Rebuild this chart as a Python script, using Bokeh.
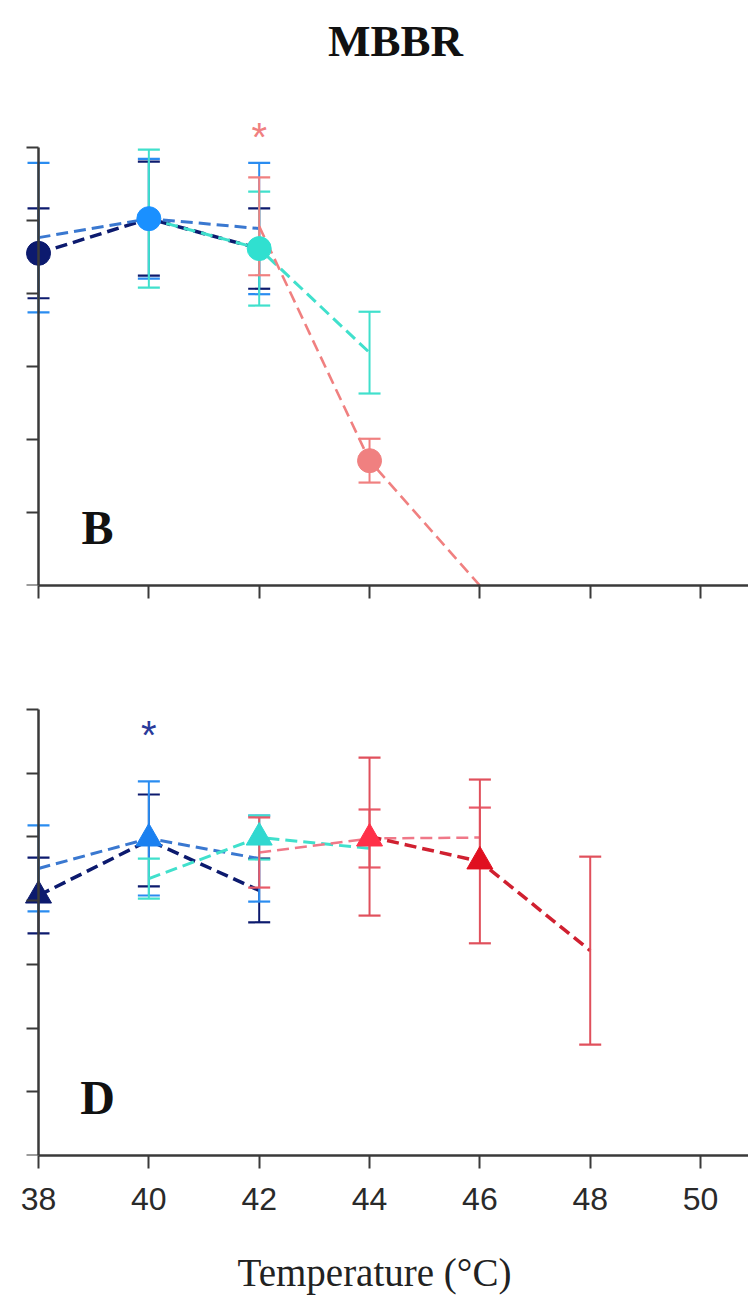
from bokeh.plotting import figure
from bokeh.layouts import column
from bokeh.models import Range1d, FixedTicker
from bokeh.core.properties import value
from bokeh.embed import file_html
from bokeh.resources import INLINE

# ---------------- data ----------------
x_ticks = [38, 40, 42, 44, 46, 48, 50]
b_y_ticks = [0, 20, 40, 60, 80, 100, 120]
d_y_ticks = [0, 20, 40, 60, 80, 100, 120, 140]

# Panel B (circles)
b_navy_x = [38, 40, 42]
b_navy_y = [91.0, 100.5, 92.3]
b_navy_e = [12.3, 15.6, 11.0]
b_blue_x = [38, 40, 42]
b_blue_y = [95.3, 100.5, 97.8]
b_blue_e = [20.5, 16.4, 18.0]
b_cyan_x = [40, 42, 44]
b_cyan_y = [100.5, 92.3, 63.8]
b_cyan_e = [18.9, 15.6, 11.2]
b_salmon_x = [42, 44, 46]
b_salmon_y = [98.4, 34.2, 0.0]
b_salmon_e = [13.4, 6.0, 0.0]
b_home = {"navy": 38, "blue": 40, "cyan": 42, "salmon": 44}

# Panel D (triangles)
d_navy_x = [38, 40, 42]
d_navy_y = [81.6, 98.9, 83.2]
d_navy_e = [11.9, 14.4, 10.0]
d_blue_x = [38, 40, 42]
d_blue_y = [90.1, 99.5, 93.2]
d_blue_e = [13.5, 17.9, 13.5]
d_cyan_x = [40, 42, 44]
d_cyan_y = [86.9, 99.8, 96.4]
d_cyan_e = [6.3, 6.9, 0.0]
d_pink_x = [42, 44, 46]
d_pink_y = [95.1, 99.5, 99.8]
d_pink_e = [11.0, 9.1, 9.4]
d_red_x = [44, 46, 48]
d_red_y = [100.1, 92.3, 64.3]
d_red_e = [24.8, 25.7, 29.5]
d_home = {"navy": 38, "blue": 40, "cyan": 42, "pink": 44, "red": 46}

# significance marks
b_star = (42, 123.0)
d_star = (40, 132.1)

# ---------------- styles ----------------
AX = "#3a3a3a"
SERIF = "Liberation Serif"
SANS = "Liberation Sans"
X0 = 37.311
X1 = 50.869


def style(p, yticks, show_labels):
    p.outline_line_color = None
    p.xgrid.grid_line_color = None
    p.ygrid.grid_line_color = None
    p.background_fill_color = "white"
    p.border_fill_color = "white"
    xa = p.xaxis[0]
    ya = p.yaxis[0]
    ya.fixed_location = 38
    xa.ticker = FixedTicker(ticks=x_ticks)
    ya.ticker = FixedTicker(ticks=yticks)
    ya.bounds = (yticks[0], yticks[-1])
    xa.bounds = (38, X1)
    for a in (xa, ya):
        a.axis_line_color = AX
        a.axis_line_width = 2.5
        a.major_tick_line_color = AX
        a.major_tick_line_width = 2
        a.major_tick_in = 0
        a.minor_tick_line_color = None
    xa.major_tick_out = 13
    ya.major_tick_out = 12
    ya.major_label_overrides = {t: "" for t in yticks}
    ya.major_label_standoff = 0
    if not show_labels:
        xa.major_label_overrides = {t: "" for t in x_ticks}
        xa.major_label_standoff = 0
    else:
        xa.major_label_text_font = SANS
        xa.major_label_text_font_size = "32px"
        xa.major_label_text_color = "#2a2a2a"
        xa.major_label_standoff = 19
        xa.axis_label = "Temperature (°C)"
        xa.axis_label_text_font = SERIF
        xa.axis_label_text_font_style = "normal"
        xa.axis_label_text_font_size = "39px"
        xa.axis_label_text_color = "#222222"
        xa.axis_label_standoff = 38


def series(p, xs, ys, es, line_color, err_color, lw, dash="12 6"):
    p.line(xs, ys, line_color=line_color, line_width=lw, line_dash=dash)
    ex = [x for x, e in zip(xs, es) if e > 0]
    lo = [y - e for y, e in zip(ys, es) if e > 0]
    hi = [y + e for y, e in zip(ys, es) if e > 0]
    p.segment(x0=ex, y0=lo, x1=ex, y1=hi, line_color=err_color, line_width=2)
    p.dash(ex, lo, size=22, line_color=err_color, line_width=2.2)
    p.dash(ex, hi, size=22, line_color=err_color, line_width=2.2)


def home_point(xs, ys, h):
    i = xs.index(h)
    return [xs[i]], [ys[i]]


# ---------------- top panel (B) ----------------
pb = figure(width=748, height=625, x_range=Range1d(X0, X1), y_range=Range1d(0, 160.27),
            output_backend="svg", toolbar_location=None,
            min_border_left=0, min_border_right=0, min_border_top=0, min_border_bottom=40)
style(pb, b_y_ticks, False)

C_NAVY = "#0c1a6e"
C_BLUE = "#2a8cf0"
C_CYAN = "#40e0cc"
C_SALMON = "#f08080"

series(pb, b_navy_x, b_navy_y, b_navy_e, C_NAVY, C_NAVY, 3.5)
series(pb, b_blue_x, b_blue_y, b_blue_e, "#3a78d0", C_BLUE, 3)
series(pb, b_cyan_x, b_cyan_y, b_cyan_e, C_CYAN, C_CYAN, 3)
series(pb, b_salmon_x, b_salmon_y, b_salmon_e, C_SALMON, C_SALMON, 2.6)

for xs, ys, key, col in [(b_navy_x, b_navy_y, "navy", C_NAVY), (b_blue_x, b_blue_y, "blue", "#1a90ff"),
                         (b_cyan_x, b_cyan_y, "cyan", "#30e0d0"), (b_salmon_x, b_salmon_y, "salmon", C_SALMON)]:
    hx, hy = home_point(xs, ys, b_home[key])
    pb.scatter(hx, hy, marker="circle", size=24, fill_color=col, line_color=col)

pb.text([b_star[0]], [b_star[1]], text=["*"], text_align="center", text_baseline="middle",
        text_font=value(SANS), text_font_size="40px", text_color=C_SALMON)
pb.text([39.07], [15.9], text=["B"], text_align="center", text_baseline="middle",
        text_font=value(SERIF), text_font_style="bold", text_font_size="48px", text_color="#111111")
pb.text([44.47], [149.3], text=["MBBR"], text_align="center", text_baseline="middle",
        text_font=value(SERIF), text_font_style="bold", text_font_size="45px", text_color="#111111")

# ---------------- bottom panel (D) ----------------
pd_ = figure(width=748, height=675, x_range=Range1d(X0, X1), y_range=Range1d(0, 166.35),
             output_backend="svg", toolbar_location=None,
             min_border_left=0, min_border_right=0, min_border_top=0, min_border_bottom=145)
style(pd_, d_y_ticks, True)

C_RED = "#e01020"

series(pd_, d_navy_x, d_navy_y, d_navy_e, C_NAVY, C_NAVY, 3.5)
series(pd_, d_blue_x, d_blue_y, d_blue_e, "#3a78d0", C_BLUE, 3)
series(pd_, d_cyan_x, d_cyan_y, d_cyan_e, C_CYAN, C_CYAN, 3)
series(pd_, d_pink_x, d_pink_y, d_pink_e, "#f07888", "#e85a68", 2.5)
series(pd_, d_red_x, d_red_y, d_red_e, "#d02030", "#e0505c", 3.5)

for xs, ys, key, col in [(d_navy_x, d_navy_y, "navy", C_NAVY), (d_blue_x, d_blue_y, "blue", "#1a80f0"),
                         (d_cyan_x, d_cyan_y, "cyan", "#30d8d0"), (d_pink_x, d_pink_y, "pink", "#ff3048"),
                         (d_red_x, d_red_y, "red", C_RED)]:
    hx, hy = home_point(xs, ys, d_home[key])
    pd_.scatter(hx, hy, marker="triangle", size=26, fill_color=col, line_color=col)

pd_.text([d_star[0]], [d_star[1]], text=["*"], text_align="center", text_baseline="middle",
         text_font=value(SANS), text_font_size="40px", text_color="#2a3a9a")
pd_.text([39.07], [18.2], text=["D"], text_align="center", text_baseline="middle",
         text_font=value(SERIF), text_font_style="bold", text_font_size="48px", text_color="#111111")

layout = column(pb, pd_, spacing=0)
open("out.html", "w").write(file_html(layout, INLINE))
